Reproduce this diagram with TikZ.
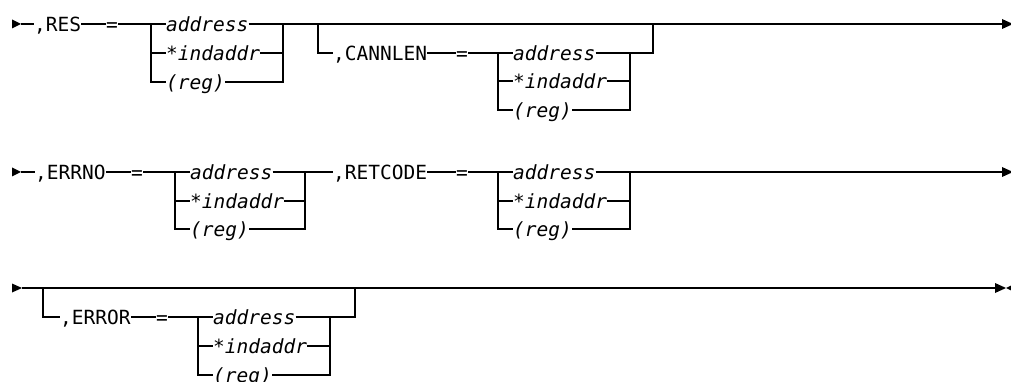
\documentclass[tikz,border=0pt]{standalone}
\usepackage{fontspec}
\setmonofont{DejaVu Sans Mono}
\tikzset{
  rail/.style={line width=1.3pt, line join=miter, line cap=butt},
  kw/.style={inner sep=0pt, anchor=west, text height=15pt, text depth=0pt, font=\ttfamily\fontsize{19.5}{22}\selectfont},
  var/.style={kw, font=\ttfamily\itshape\fontsize{19.5}{22}\selectfont},
  tipfill/.style={fill=black}
}
% #1 name, #2 x left bar, #3 x text, #4 x right bar, #5 #6 #7 rows
\newcommand{\rrchoice}[7]{%
  \coordinate (#1L) at (#2,#5);
  \coordinate (#1R) at (#4,#5);
  \node[var] (#1a) at (#3,#5) {address};
  \node[var] (#1b) at (#3,#6) {*indaddr};
  \node[var] (#1c) at (#3,#7) {(reg)};
  \draw[rail] (#1L) -- (#1a.west);
  \draw[rail] (#1L |- #1b.west) -- (#1b.west);
  \draw[rail] (#1L) |- (#1c.west);
  \draw[rail] (#1a.east) -- (#1R);
  \draw[rail] (#1b.east) -- (#1R |- #1b.east);
  \draw[rail] (#1c.east) -| (#1R);
}
\begin{document}
\begin{tikzpicture}[x=1pt,y=-1pt]
\useasboundingbox (0,0) rectangle (1011,382);
% ---------- row 1 ----------
\fill[tipfill] (12,19.5) -- (21,24) -- (12,28.5) -- cycle;
\coordinate (s1) at (21,24);
\node[kw] (res) at (34,24) {,RES};
\node[kw] (eq1) at (106,24) {=};
\draw[rail] (s1) -- (res.west);
\draw[rail] (res.east) -- (eq1.west);
\rrchoice{ga}{151}{166}{283}{24}{53}{82}
\draw[rail] (eq1.east) -- (gaL);
\coordinate (e1) at (1003,24);
\draw[rail] (gaR) -- (e1);
\fill[tipfill] (1002,19) -- (1013,24) -- (1002,29) -- cycle;
% optional CANNLEN
\coordinate (cL) at (318,24);
\coordinate (cR) at (653,24);
\node[kw] (cann) at (333,53) {,CANNLEN};
\node[kw] (eq2) at (456,53) {=};
\draw[rail] (cL) |- (cann.west);
\draw[rail] (cann.east) -- (eq2.west);
\rrchoice{gb}{498}{513}{630}{53}{81}{110}
\draw[rail] (eq2.east) -- (gbL);
\draw[rail] (gbR) -| (cR);
% ---------- row 2 ----------
\fill[tipfill] (12,167.5) -- (21,172) -- (12,176.5) -- cycle;
\coordinate (s2) at (21,172);
\node[kw] (errno) at (35,172) {,ERRNO};
\node[kw] (eq3) at (131,172) {=};
\draw[rail] (s2) -- (errno.west);
\draw[rail] (errno.east) -- (eq3.west);
\rrchoice{gc}{175}{190}{305}{172}{201}{229}
\draw[rail] (eq3.east) -- (gcL);
\node[kw] (ret) at (333,172) {,RETCODE};
\node[kw] (eq4) at (456,172) {=};
\draw[rail] (gcR) -- (ret.west);
\draw[rail] (ret.east) -- (eq4.west);
\rrchoice{gd}{498}{513}{630}{172}{201}{229}
\draw[rail] (eq4.east) -- (gdL);
\coordinate (e2) at (1003,172);
\draw[rail] (gdR) -- (e2);
\fill[tipfill] (1002,167) -- (1013,172) -- (1002,177) -- cycle;
% ---------- row 3 ----------
\fill[tipfill] (12,283.5) -- (22,288) -- (12,292.5) -- cycle;
\coordinate (s3) at (22,288);
\coordinate (e3) at (995,288);
\draw[rail] (s3) -- (e3);
\fill[tipfill] (995,283) -- (1006,288) -- (995,293) -- cycle;
\fill[tipfill] (1016,283) -- (1006,288) -- (1016,293) -- cycle;
\coordinate (rL) at (43,288);
\coordinate (rR) at (355,288);
\node[kw] (err) at (60,317) {,ERROR};
\node[kw] (eq5) at (156,317) {=};
\draw[rail] (rL) |- (err.west);
\draw[rail] (err.east) -- (eq5.west);
\rrchoice{ge}{198}{213}{330}{317}{346}{375}
\draw[rail] (eq5.east) -- (geL);
\draw[rail] (geR) -| (rR);
\end{tikzpicture}
\end{document}
